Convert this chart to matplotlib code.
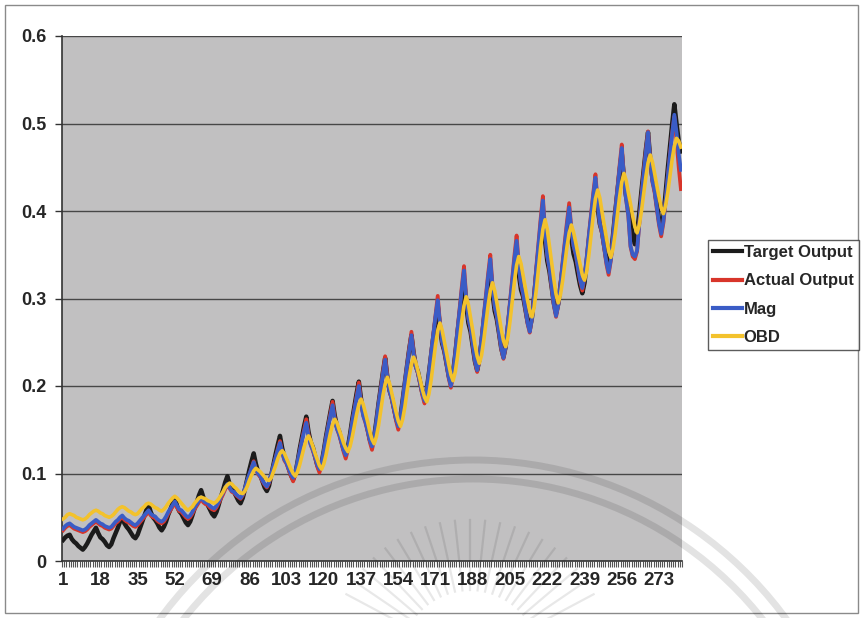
import numpy as np
import matplotlib
matplotlib.use("Agg")
import matplotlib.pyplot as plt
from matplotlib.patches import Rectangle, Arc
from matplotlib.lines import Line2D

plt.rcParams['font.family'] = ['Liberation Sans', 'DejaVu Sans']

series_names = ["Target Output", "Actual Output", "Mag", "OBD"]
series_colors = ["#1b1b1b", "#d8352a", "#3a5cc6", "#f3c22c"]

target_output = [
    .024, .027, .029, .030,
    .025, .022, .020, .017, .015, .013,
    .016, .020, .025, .030, .034, .038,
    .032, .027, .025, .022, .018, .016,
    .019, .026, .032, .038, .045, .050,
    .043, .039, .036, .032, .028, .026,
    .030, .037, .044, .051, .058, .064,
    .056, .050, .047, .043, .038, .035,
    .039, .045, .053, .059, .066, .072,
    .063, .057, .054, .049, .044, .041,
    .045, .052, .060, .067, .075, .081,
    .073, .067, .064, .059, .054, .051,
    .056, .064, .073, .081, .090, .097,
    .088, .082, .079, .074, .069, .066,
    .072, .082, .093, .104, .114, .123,
    .111, .102, .098, .091, .084, .080,
    .086, .098, .110, .122, .133, .143,
    .129, .119, .114, .106, .098, .093,
    .100, .113, .128, .141, .154, .165,
    .148, .136, .130, .120, .110, .104,
    .112, .126, .142, .156, .170, .183,
    .166, .154, .148, .138, .128, .122,
    .130, .145, .162, .177, .192, .205,
    .185, .170, .163, .151, .139, .132,
    .142, .160, .180, .198, .216, .232,
    .210, .195, .187, .175, .163, .155,
    .165, .184, .204, .223, .242, .258,
    .238, .223, .216, .204, .192, .185,
    .196, .215, .236, .256, .275, .292,
    .267, .249, .240, .226, .212, .203,
    .215, .236, .260, .282, .303, .322,
    .293, .272, .262, .245, .228, .218,
    .230, .251, .274, .295, .316, .335,
    .306, .286, .276, .260, .243, .233,
    .245, .266, .290, .312, .333, .352,
    .328, .310, .302, .288, .274, .265,
    .278, .302, .329, .353, .377, .398,
    .366, .343, .331, .313, .295, .283,
    .294, .314, .335, .355, .375, .392,
    .368, .351, .342, .328, .315, .306,
    .318, .341, .366, .388, .410, .430,
    .404, .385, .376, .360, .345, .336,
    .349, .372, .398, .422, .445, .466,
    .437, .416, .406, .389, .372, .362,
    .375, .398, .423, .446, .470, .490,
    .459, .437, .426, .409, .391, .380,
    .394, .420, .448, .474, .499, .522,
    .500, .480, .468,
]

actual_output = [
    .035, .038, .040, .041,
    .039, .037, .036, .035, .034, .033,
    .034, .036, .039, .041, .043, .045,
    .043, .041, .040, .038, .037, .036,
    .037, .040, .043, .045, .048, .050,
    .047, .045, .044, .042, .040, .039,
    .041, .044, .047, .050, .053, .056,
    .052, .050, .049, .046, .044, .043,
    .045, .049, .054, .058, .062, .066,
    .061, .057, .056, .053, .050, .048,
    .050, .054, .059, .063, .067, .071,
    .067, .065, .064, .061, .059, .058,
    .061, .066, .071, .076, .082, .087,
    .083, .079, .078, .075, .073, .071,
    .075, .082, .091, .098, .106, .114,
    .105, .099, .096, .091, .087, .084,
    .089, .098, .108, .118, .128, .137,
    .124, .115, .111, .104, .097, .091,
    .099, .112, .125, .138, .150, .162,
    .145, .133, .126, .118, .108, .101,
    .110, .124, .140, .154, .168, .182,
    .163, .151, .144, .135, .125, .117,
    .127, .142, .159, .174, .189, .204,
    .182, .166, .158, .148, .136, .127,
    .139, .158, .179, .197, .216, .234,
    .211, .194, .185, .173, .160, .150,
    .162, .182, .204, .224, .243, .262,
    .239, .222, .214, .202, .189, .180,
    .193, .214, .238, .260, .283, .303,
    .273, .251, .240, .225, .209, .198,
    .212, .237, .264, .289, .314, .337,
    .302, .277, .265, .247, .228, .216,
    .230, .254, .280, .304, .328, .350,
    .315, .291, .279, .260, .242, .231,
    .245, .271, .298, .323, .349, .372,
    .339, .316, .305, .288, .271, .261,
    .277, .305, .336, .364, .392, .417,
    .377, .349, .334, .313, .292, .279,
    .292, .316, .342, .365, .388, .409,
    .380, .360, .350, .335, .320, .309,
    .324, .347, .373, .397, .421, .442,
    .410, .386, .374, .357, .339, .327,
    .343, .370, .399, .426, .452, .476,
    .439, .413, .394, .359, .348, .345,
    .354, .386, .417, .444, .469, .491,
    .458, .433, .421, .402, .384, .371,
    .386, .411, .439, .465, .489, .508,
    .480, .450, .425,
]

mag = [
    .037, .040, .042, .043,
    .041, .039, .038, .037, .036, .035,
    .036, .038, .041, .043, .045, .047,
    .045, .043, .042, .040, .039, .038,
    .039, .042, .045, .047, .050, .052,
    .049, .047, .046, .044, .042, .041,
    .043, .046, .049, .052, .055, .058,
    .054, .052, .051, .048, .046, .045,
    .047, .051, .056, .060, .064, .068,
    .063, .059, .058, .055, .052, .050,
    .052, .056, .061, .065, .069, .073,
    .069, .067, .066, .063, .061, .060,
    .063, .068, .073, .078, .084, .088,
    .084, .080, .079, .076, .074, .072,
    .076, .083, .092, .099, .106, .113,
    .105, .100, .097, .092, .088, .085,
    .090, .099, .109, .118, .127, .135,
    .124, .116, .112, .105, .099, .095,
    .101, .113, .125, .137, .148, .158,
    .143, .133, .127, .119, .110, .105,
    .112, .125, .140, .153, .166, .178,
    .161, .151, .145, .136, .127, .121,
    .129, .143, .159, .173, .187, .200,
    .180, .166, .159, .149, .138, .131,
    .141, .159, .179, .196, .214, .230,
    .209, .194, .186, .174, .162, .154,
    .164, .183, .204, .223, .241, .258,
    .237, .222, .215, .203, .191, .183,
    .195, .215, .238, .259, .280, .298,
    .271, .251, .241, .226, .210, .200,
    .213, .237, .263, .287, .311, .332,
    .300, .277, .266, .248, .229, .218,
    .231, .254, .279, .302, .325, .345,
    .313, .291, .280, .261, .243, .232,
    .245, .270, .296, .320, .345, .366,
    .337, .316, .306, .289, .272, .262,
    .277, .304, .334, .361, .388, .412,
    .375, .349, .335, .314, .293, .280,
    .292, .315, .340, .362, .384, .404,
    .378, .360, .351, .336, .321, .312,
    .325, .347, .372, .395, .418, .438,
    .408, .386, .375, .358, .341, .330,
    .344, .370, .398, .424, .449, .472,
    .437, .413, .395, .360, .350, .348,
    .355, .386, .416, .442, .467, .490,
    .458, .434, .423, .404, .386, .374,
    .388, .412, .439, .464, .488, .510,
    .490, .465, .447,
]

obd = [
    .048, .050, .053, .054,
    .053, .052, .050, .049, .048, .047,
    .048, .050, .053, .055, .057, .058,
    .057, .055, .054, .052, .051, .050,
    .051, .053, .056, .059, .061, .062,
    .061, .059, .057, .056, .054, .053,
    .054, .057, .060, .062, .065, .066,
    .065, .063, .061, .060, .058, .057,
    .059, .062, .066, .069, .072, .074,
    .072, .069, .066, .063, .060, .058,
    .060, .062, .066, .069, .072, .073,
    .072, .071, .069, .068, .067, .066,
    .068, .071, .075, .079, .084, .087,
    .089, .088, .085, .083, .080, .078,
    .077, .080, .085, .092, .098, .103,
    .106, .104, .102, .099, .096, .093,
    .092, .095, .102, .109, .117, .123,
    .126, .123, .117, .111, .105, .100,
    .097, .102, .110, .120, .130, .138,
    .143, .138, .131, .123, .116, .109,
    .105, .111, .121, .134, .146, .156,
    .162, .158, .150, .143, .135, .129,
    .125, .131, .142, .155, .168, .179,
    .185, .179, .169, .159, .148, .139,
    .134, .142, .155, .172, .189, .202,
    .210, .203, .192, .181, .170, .160,
    .154, .162, .176, .194, .211, .225,
    .233, .227, .217, .207, .196, .187,
    .182, .191, .207, .227, .247, .263,
    .272, .264, .251, .238, .225, .213,
    .206, .216, .233, .254, .275, .292,
    .302, .293, .278, .263, .247, .234,
    .226, .235, .252, .272, .292, .309,
    .318, .309, .295, .280, .265, .252,
    .245, .255, .274, .297, .319, .338,
    .348, .340, .326, .312, .298, .286,
    .279, .290, .310, .335, .359, .379,
    .390, .379, .360, .341, .322, .305,
    .295, .304, .320, .340, .359, .375,
    .384, .376, .364, .351, .339, .327,
    .321, .331, .350, .373, .395, .414,
    .424, .415, .399, .384, .369, .355,
    .347, .357, .374, .395, .416, .433,
    .443, .435, .421, .408, .394, .382,
    .375, .384, .400, .420, .439, .455,
    .464, .456, .443, .429, .416, .404,
    .397, .406, .421, .440, .459, .474,
    .483, .480, .473,
]

x_tick_labels = [1, 18, 35, 52, 69, 86, 103, 120, 137, 154, 171, 188, 205, 222, 239, 256, 273]
y_tick_values = [0, 0.1, 0.2, 0.3, 0.4, 0.5, 0.6]
y_tick_labels = ["0", "0.1", "0.2", "0.3", "0.4", "0.5", "0.6"]

W, H = 861, 618
fig = plt.figure(figsize=(W / 100, H / 100), dpi=100)
fig.patch.set_facecolor("white")

# outer chart border
fig.patches.append(Rectangle((5 / W, 1 - 613 / H), (858 - 5) / W, (613 - 5) / H,
                             transform=fig.transFigure, fill=False,
                             edgecolor="#8a8a8a", lw=1.0))

L, R, T, B = 62, 682, 36, 561
ax = fig.add_axes([L / W, 1 - B / H, (R - L) / W, (B - T) / H])
ax.set_facecolor("#c1c0c1")

all_series = [target_output, actual_output, mag, obd]
widths = [3.2, 2.7, 2.7, 2.6]
for vals, name, col, lw in zip(all_series, series_names, series_colors, widths):
    xs = np.arange(1, len(vals) + 1)
    ax.plot(xs, vals, color=col, lw=lw, label=name, solid_joinstyle="round", zorder=3)

n = len(target_output)
ax.set_xlim(0.5, n + 0.5)
ax.set_ylim(0, 0.6)

ax.set_yticks(y_tick_values)
ax.set_yticklabels(y_tick_labels, fontweight="bold")
ax.set_xticks(x_tick_labels)
ax.set_xticklabels([str(v) for v in x_tick_labels], fontweight="bold")
ax.set_xticks(np.arange(0.5, n + 1, 1.0), minor=True)

ax.tick_params(axis="y", which="major", direction="out", length=5, width=1,
               color="#333333", labelsize=13, pad=6, labelcolor="#262626")
ax.tick_params(axis="x", which="major", length=0, labelsize=13.5, pad=8,
               labelcolor="#262626")
ax.tick_params(axis="x", which="minor", direction="out", length=4, width=0.8,
               color="#555555")

ax.yaxis.grid(True, color="#474747", lw=1.0)
ax.set_axisbelow(True)
for s in ["top", "right"]:
    ax.spines[s].set_visible(False)
for s in ["left", "bottom"]:
    ax.spines[s].set_color("#333333")
    ax.spines[s].set_linewidth(1.2)

handles, labels = ax.get_legend_handles_labels()
leg = fig.legend(handles, labels, loc="upper left",
                 bbox_to_anchor=(708 / W, 1 - 240 / H),
                 frameon=True, fancybox=False, edgecolor="#333333",
                 prop={"size": 12, "weight": "bold"},
                 handlelength=1.75, handletextpad=0.1,
                 labelspacing=0.8, borderpad=0.3, borderaxespad=0)
leg.get_frame().set_linewidth(1.0)
for t in leg.get_texts():
    t.set_color("#262626")
for line in leg.get_lines():
    line.set_linewidth(3)

# faint watermark seal from the scanned page (arcs and rays)
cx, cy = 473, H - 848
for r in (388, 369):
    fig.patches.append(Arc((cx, cy), 2 * r, 2 * r, theta1=20, theta2=160,
                           transform=None, edgecolor="black", alpha=0.11, lw=5.0))
rcx, rcy = 470, H - 660
for ang in np.linspace(28, 152, 21):
    a = np.deg2rad(ang)
    r0, r1 = 70, 140
    fig.lines.append(Line2D([rcx + r0 * np.cos(a), rcx + r1 * np.cos(a)],
                            [rcy + r0 * np.sin(a), rcy + r1 * np.sin(a)],
                            transform=None, color="black", alpha=0.09, lw=1.6))

fig.savefig("out.png", dpi=100)
